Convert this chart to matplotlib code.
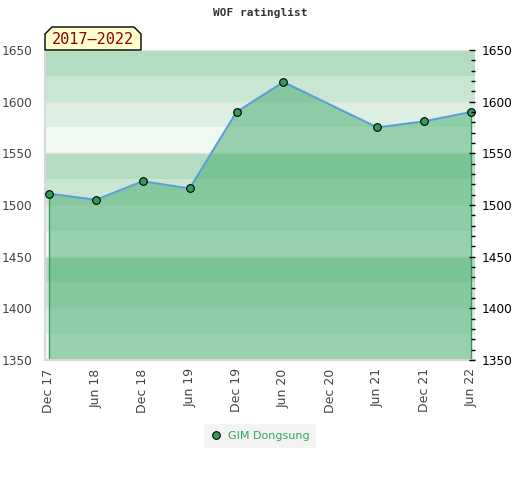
import matplotlib
matplotlib.use("Agg")
from matplotlib import pyplot as plt
from matplotlib.patches import Polygon
from matplotlib.ticker import MultipleLocator

# months since Dec 2017
months = [0, 6, 12, 18, 24, 30, 42, 48, 54]
ratings = [1511, 1505, 1523, 1516, 1590, 1619, 1575, 1581, 1590]

tick_months = [0, 6, 12, 18, 24, 30, 36, 42, 48, 54]
tick_labels = ["Dec 17", "Jun 18", "Dec 18", "Jun 19", "Dec 19",
               "Jun 20", "Dec 20", "Jun 21", "Dec 21", "Jun 22"]

player = "GIM Dongsung"
period = "2017\u20132022"
title = "WOF ratinglist"

ymin, ymax = 1350, 1650
band_colors = ["#b3dcc0", "#c9e6d2", "#dcefe2", "#f0f8f2"]

fig = plt.figure(figsize=(5.2, 4.8), dpi=100)
ax = fig.add_axes([45 / 520, 1 - 360 / 480, 430 / 520, 310 / 480])

# horizontal background bands, 25 points each
top = ymax
i = 0
while top > ymin:
    ax.axhspan(top - 25, top, color=band_colors[i % 4], lw=0, zorder=0)
    top -= 25
    i += 1
for y in range(ymin, ymax + 1, 50):
    ax.axhline(y, color="#e2e2e2", lw=1, zorder=0.5)

ax.fill_between(months, ratings, ymin, color="#42ac69", alpha=0.5, lw=0, zorder=1)
ax.vlines([months[0], months[-1]], ymin, [ratings[0], ratings[-1]],
          color="#3a9a5a", lw=1, zorder=2)
ax.plot(months, ratings, color="#5b9fd8", lw=1.5, zorder=3)
ax.plot(months, ratings, "o", color="#2e9e58", mec="black", mew=0.8, ms=5.5,
        zorder=4, label=player)

ax.set_xlim(-0.5, 54.5)
ax.set_ylim(ymin, ymax)
ax.set_xticks(tick_months)
ax.set_xticklabels(tick_labels, rotation=90, fontsize=9, color="#444444")
ax.yaxis.set_major_locator(MultipleLocator(50))
ax.tick_params(axis="y", length=0, labelsize=8.7, labelcolor="#444444", pad=9)
ax.tick_params(axis="x", length=0, pad=6)
for side in ["top", "right"]:
    ax.spines[side].set_visible(False)
for side in ["left", "bottom"]:
    ax.spines[side].set_color("#d8d8d8")
    ax.spines[side].set_linewidth(1.5)

ax2 = ax.twinx()
ax2.set_ylim(ymin, ymax)
ax2.yaxis.set_major_locator(MultipleLocator(50))
ax2.yaxis.set_minor_locator(MultipleLocator(10))
ax2.tick_params(axis="y", which="major", direction="in", length=4, width=1,
                labelsize=8.7, pad=5)
ax2.tick_params(axis="y", which="minor", direction="in", length=3, width=1)
for side in ["top", "left", "bottom", "right"]:
    ax2.spines[side].set_visible(False)

fig.text(0.5, 1 - 13 / 480, title, ha="center", va="center",
         family="DejaVu Sans Mono", fontsize=8, fontweight="bold", color="#333333")

# period label with chamfered top corners
pts = [(45, 50), (45, 34), (52, 27), (134, 27), (141, 34), (141, 50)]
fig.patches.append(Polygon([(x / 520, 1 - y / 480) for x, y in pts], closed=True,
                           transform=fig.transFigure, facecolor="#ffffcc",
                           edgecolor="black", lw=1, zorder=5))
fig.text(93 / 520, 1 - 40 / 480, period, ha="center", va="center",
         family="DejaVu Sans Mono", fontsize=11, color="#8b0000", zorder=6)

leg = ax.legend(loc="center", bbox_to_anchor=(0.5, 1 - 436 / 480),
                bbox_transform=fig.transFigure, frameon=True, fontsize=8,
                handletextpad=0.5, borderpad=0.35, handlelength=1.0,
                borderaxespad=0)
leg.get_frame().set_facecolor("#f0f0f0")
leg.get_frame().set_edgecolor("none")
leg.get_frame().set_boxstyle("square")
for t in leg.get_texts():
    t.set_color("#2ea85a")

fig.savefig("out.png", dpi=100)
